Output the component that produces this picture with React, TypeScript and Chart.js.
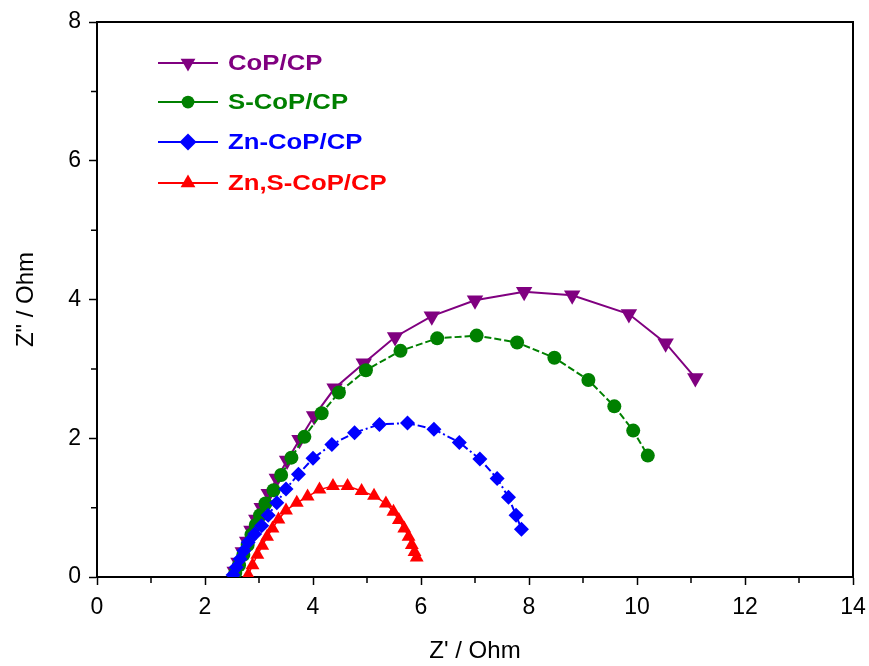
import React, { useEffect, useRef } from 'react';
import { Chart, registerables } from 'chart.js';

Chart.register(...registerables);

const FONT = "Arial, 'Liberation Sans', sans-serif";

// Nyquist data: Z' (real) and Z" (imaginary), in Ohm
const copX = [2.55, 2.62, 2.70, 2.78, 2.86, 2.95, 3.05, 3.18, 3.33, 3.52, 3.75, 4.02, 4.40, 4.94, 5.52, 6.20, 7.00, 7.91, 8.80, 9.85, 10.53, 11.08];
const copY = [0.08, 0.21, 0.36, 0.51, 0.67, 0.83, 1.00, 1.20, 1.42, 1.68, 1.98, 2.32, 2.72, 3.08, 3.46, 3.76, 3.99, 4.11, 4.06, 3.79, 3.37, 2.87];

const sCopX = [2.56, 2.63, 2.71, 2.79, 2.86, 2.94, 3.02, 3.12, 3.27, 3.41, 3.60, 3.84, 4.16, 4.48, 4.98, 5.62, 6.30, 7.03, 7.78, 8.47, 9.10, 9.58, 9.93, 10.20];
const sCopY = [0.06, 0.17, 0.32, 0.46, 0.61, 0.75, 0.89, 1.06, 1.25, 1.47, 1.72, 2.02, 2.36, 2.66, 2.98, 3.26, 3.44, 3.48, 3.38, 3.16, 2.84, 2.46, 2.11, 1.75];

const znCopX = [2.52, 2.58, 2.65, 2.72, 2.80, 2.92, 3.05, 3.17, 3.33, 3.50, 3.73, 4.00, 4.35, 4.77, 5.23, 5.75, 6.24, 6.71, 7.09, 7.41, 7.62, 7.76, 7.86];
const znCopY = [0.03, 0.14, 0.26, 0.38, 0.50, 0.62, 0.74, 0.89, 1.07, 1.27, 1.48, 1.71, 1.91, 2.08, 2.20, 2.22, 2.13, 1.94, 1.70, 1.42, 1.15, 0.89, 0.69];

const znSCopX = [2.80, 2.88, 2.97, 3.06, 3.15, 3.25, 3.36, 3.50, 3.70, 3.90, 4.12, 4.37, 4.64, 4.90, 5.13, 5.35, 5.49, 5.59, 5.69, 5.77, 5.83, 5.88, 5.92];
const znSCopY = [0.03, 0.17, 0.32, 0.45, 0.58, 0.70, 0.83, 0.96, 1.07, 1.16, 1.26, 1.31, 1.31, 1.24, 1.17, 1.06, 0.94, 0.82, 0.70, 0.58, 0.46, 0.36, 0.28];

const seriesNames = ['CoP/CP', 'S-CoP/CP', 'Zn-CoP/CP', 'Zn,S-CoP/CP'];
const seriesColors = ['#800080', '#008000', '#0000ff', '#ff0000'];

const xTickMin = 0;
const xTickMax = 14;
const yTickMin = 0;
const yTickMax = 8;

const toPoints = (xs: number[], ys: number[]) => xs.map((x, i) => ({ x, y: ys[i] }));

type Marker = 'down' | 'circle' | 'diamond' | 'up';
const legendMarkers: Marker[] = ['down', 'circle', 'diamond', 'up'];

function drawMarker(ctx: CanvasRenderingContext2D, kind: Marker, x: number, y: number, r: number) {
  ctx.beginPath();
  if (kind === 'circle') {
    ctx.arc(x, y, r * 0.75, 0, Math.PI * 2);
  } else if (kind === 'diamond') {
    ctx.moveTo(x, y - r);
    ctx.lineTo(x + r, y);
    ctx.lineTo(x, y + r);
    ctx.lineTo(x - r, y);
    ctx.closePath();
  } else {
    const s = kind === 'up' ? -1 : 1;
    const h = r * 0.87;
    ctx.moveTo(x, y + s * r);
    ctx.lineTo(x - h, y - s * r * 0.5);
    ctx.lineTo(x + h, y - s * r * 0.5);
    ctx.closePath();
  }
  ctx.fill();
}

// Closed frame, minor ticks and the in-plot legend
const framePlugin = {
  id: 'frameAndLegend',
  afterDraw(chart: any) {
    const { ctx, chartArea } = chart;
    const { left, right, top, bottom } = chartArea;
    const xs = chart.scales.x;
    const ys = chart.scales.y;
    ctx.save();
    ctx.strokeStyle = '#000';
    ctx.lineWidth = 2;
    ctx.beginPath();
    ctx.moveTo(left, top);
    ctx.lineTo(right, top);
    ctx.lineTo(right, bottom);
    ctx.stroke();

    ctx.lineWidth = 1.5;
    ctx.beginPath();
    for (let v = xTickMin + 1; v < xTickMax; v += 2) {
      const px = xs.getPixelForValue(v);
      ctx.moveTo(px, bottom);
      ctx.lineTo(px, bottom + 6);
    }
    for (let v = yTickMin + 1; v < yTickMax; v += 2) {
      const py = ys.getPixelForValue(v);
      ctx.moveTo(left, py);
      ctx.lineTo(left - 6, py);
    }
    ctx.stroke();

    // legend
    const rowY = [63, 102, 142, 183];
    seriesNames.forEach((name, i) => {
      const y = rowY[i];
      const c = seriesColors[i];
      ctx.strokeStyle = c;
      ctx.fillStyle = c;
      ctx.lineWidth = 2;
      ctx.beginPath();
      ctx.moveTo(158, y);
      ctx.lineTo(218, y);
      ctx.stroke();
      drawMarker(ctx, legendMarkers[i], 188, y, 8.5);
      ctx.save();
      ctx.translate(228, y);
      ctx.scale(1.17, 1);
      ctx.font = `bold 22px ${FONT}`;
      ctx.textAlign = 'left';
      ctx.textBaseline = 'middle';
      ctx.fillText(name, 0, 1);
      ctx.restore();
    });
    ctx.restore();
  },
};

export default function App() {
  const canvasRef = useRef<HTMLCanvasElement | null>(null);

  useEffect(() => {
    const canvas = canvasRef.current;
    if (!canvas) return;
    const chart = new Chart(canvas, {
      type: 'scatter',
      data: {
        datasets: [
          {
            label: seriesNames[0],
            data: toPoints(copX, copY),
            borderColor: seriesColors[0],
            backgroundColor: seriesColors[0],
            showLine: true,
            borderWidth: 2,
            pointStyle: 'triangle',
            rotation: 180,
            pointRadius: 9.5,
            pointBorderWidth: 0,
            order: 4,
          },
          {
            label: seriesNames[1],
            data: toPoints(sCopX, sCopY),
            borderColor: seriesColors[1],
            backgroundColor: seriesColors[1],
            showLine: true,
            borderWidth: 2,
            borderDash: [7, 3],
            pointStyle: 'circle',
            pointRadius: 7,
            pointBorderWidth: 0,
            order: 3,
          },
          {
            label: seriesNames[2],
            data: toPoints(znCopX, znCopY),
            borderColor: seriesColors[2],
            backgroundColor: seriesColors[2],
            showLine: true,
            borderWidth: 2,
            borderDash: [8, 3, 2, 3],
            pointStyle: 'rectRot',
            pointRadius: 7.5,
            pointBorderWidth: 0,
            order: 2,
          },
          {
            label: seriesNames[3],
            data: toPoints(znSCopX, znSCopY),
            borderColor: seriesColors[3],
            backgroundColor: seriesColors[3],
            showLine: true,
            borderWidth: 1.5,
            pointStyle: 'triangle',
            pointRadius: 8,
            pointBorderWidth: 0,
            order: 1,
          },
        ],
      },
      options: {
        responsive: false,
        animation: false,
        devicePixelRatio: 1,
        layout: { padding: { top: 22, right: 16, left: 0, bottom: 0 } },
        plugins: {
          legend: { display: false },
          tooltip: { enabled: false },
        },
        scales: {
          x: {
            type: 'linear',
            min: xTickMin,
            max: xTickMax,
            ticks: {
              stepSize: 2,
              color: '#000',
              font: { family: FONT, size: 23 },
              padding: 9,
            },
            grid: { drawOnChartArea: false, tickLength: 8, tickColor: '#000', tickWidth: 1.5 },
            border: { color: '#000', width: 2 },
            title: {
              display: true,
              text: "Z' / Ohm",
              color: '#000',
              font: { family: FONT, size: 24, lineHeight: 1.2 },
              padding: { top: 0, bottom: 0 },
            },
            afterFit: (s: any) => {
              s.height = 89;
              s.paddingLeft = 0;
              s.paddingRight = 0;
            },
          },
          y: {
            type: 'linear',
            min: yTickMin,
            max: yTickMax,
            ticks: {
              stepSize: 2,
              color: '#000',
              font: { family: FONT, size: 23 },
              padding: 8,
            },
            grid: { drawOnChartArea: false, tickLength: 8, tickColor: '#000', tickWidth: 1.5 },
            border: { color: '#000', width: 2 },
            title: {
              display: true,
              text: 'Z" / Ohm',
              color: '#000',
              font: { family: FONT, size: 24, lineHeight: 1.2 },
              padding: { top: 12, bottom: 0 },
            },
            afterFit: (s: any) => {
              s.width = 97;
              s.paddingTop = 0;
              s.paddingBottom = 0;
            },
          },
        },
      },
      plugins: [framePlugin],
    });
    return () => chart.destroy();
  }, []);

  return (
    <div style={{ position: 'fixed', left: 0, top: 0, width: 869, height: 666, background: '#fff' }}>
      <canvas ref={canvasRef} width={869} height={666} />
    </div>
  );
}
